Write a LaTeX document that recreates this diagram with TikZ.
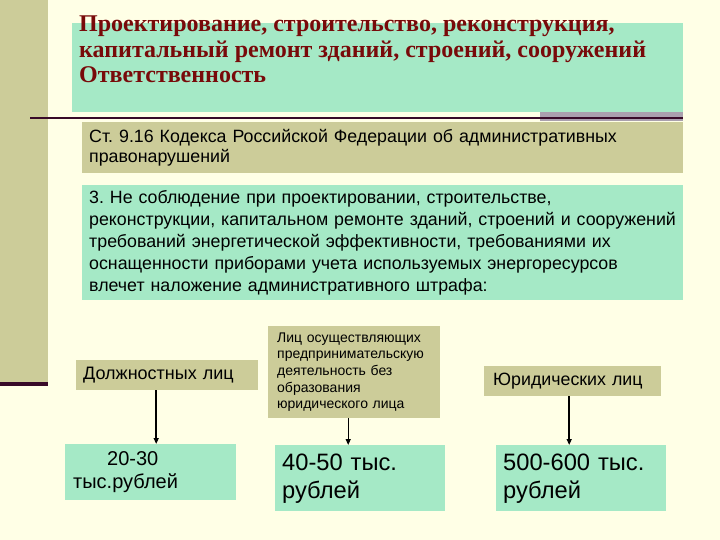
\documentclass[tikz,border=0pt]{standalone}
\usepackage{fontspec}
\setmainfont{Liberation Serif}
\setsansfont{Liberation Sans}
\usetikzlibrary{arrows.meta}

\definecolor{cream}{HTML}{FFFFE6}
\definecolor{khaki}{HTML}{CCCC99}
\definecolor{mint}{HTML}{A5E9C6}
\definecolor{darkred}{HTML}{780A0A}
\definecolor{plum}{HTML}{380A28}
\definecolor{greybar}{HTML}{AAA0AE}

\begin{document}
\frenchspacing
\begin{tikzpicture}[x=1pt, y=-1pt,
    box/.style={anchor=north west, inner ysep=0pt, inner xsep=7pt, align=left, font=\sffamily},
    greenbox/.style={box, fill=mint},
    khakibox/.style={box, fill=khaki},
    arr/.style={-{Triangle[length=6pt, width=5pt]}, line width=1.8pt, black}]

    % Background and frame
    \fill[cream] (0,0) rectangle (720,540);
    \useasboundingbox (0,0) rectangle (720,540);
    \fill[khaki] (0,0) rectangle (48,382);
    \draw[plum, line width=4pt] (0,384) -- (48,384);
    \fill[mint] (72,23) rectangle (683,112);
    \fill[greybar] (540,112) rectangle (683,121);
    \draw[plum, line width=2.5pt] (30,118) -- (683,118);

    % Title
    \node[anchor=base west, inner sep=0pt, align=left, text=darkred,
          font=\fontsize{24}{25.5}\selectfont\bfseries] (title) at (79,83)
        {Проектирование, строительство, реконструкция,\\
         капитальный ремонт зданий, строений, сооружений\\
         Ответственность};

    % Draw nodes
    \node[khakibox, text width=587pt, minimum height=51pt,
          font=\sffamily\fontsize{17.8}{20}\selectfont] (article) at (82,122)
        {Ст. 9.16 Кодекса Российской Федерации об административных\\
         правонарушений};
    \node[greenbox, text width=587pt, minimum height=115pt,
          font=\sffamily\fontsize{17.8}{22}\selectfont] (rule) at (82,185)
        {3. Не соблюдение при проектировании, строительстве,\\
         реконструкции, капитальном ремонте зданий, строений и сооружений\\
         требований энергетической эффективности, требованиями их\\
         оснащенности приборами учета используемых энергоресурсов\\
         влечет наложение административного штрафа:};

    \node[khakibox, text width=168pt, minimum height=30pt,
          font=\sffamily\fontsize{18}{20}\selectfont] (official) at (76,360)
        {Должностных лиц};
    \node[khakibox, inner xsep=9pt, text width=154pt, minimum height=92pt,
          font=\sffamily\fontsize{14}{16.7}\selectfont] (entrep) at (268,326)
        {Лиц осуществляющих\\
         предпринимательскую\\
         деятельность без\\
         образования\\
         юридического лица};
    \node[khakibox, inner xsep=9pt, text width=159pt, minimum height=30pt,
          font=\sffamily\fontsize{17.8}{20}\selectfont] (legal) at (484,366)
        {Юридических лиц};

    \node[greenbox, inner xsep=8pt, text width=155pt, minimum height=56pt,
          font=\sffamily\fontsize{20}{23}\selectfont] (fineA) at (65,444)
        {\hspace*{34pt}20-30\\
         тыс.рублей};
    \node[greenbox, text width=156pt, minimum height=66pt,
          font=\sffamily\fontsize{23.7}{28}\selectfont] (fineB) at (275,445)
        {40-50 тыс.\\
         рублей};
    \node[greenbox, text width=156pt, minimum height=66pt,
          font=\sffamily\fontsize{23.7}{28}\selectfont] (fineC) at (496,445)
        {500-600 тыс.\\
         рублей};

    % Draw connections
    \draw[arr] ([xshift=-11pt]official.south) -- ([xshift=-11pt]official.south |- fineA.north);
    \draw[arr, line width=1.3pt] ([xshift=-6pt]entrep.south) -- ([xshift=-6pt]entrep.south |- fineB.north);
    \draw[arr] ([xshift=-3.5pt]legal.south) -- ([xshift=-3.5pt]legal.south |- fineC.north);
\end{tikzpicture}
\end{document}
